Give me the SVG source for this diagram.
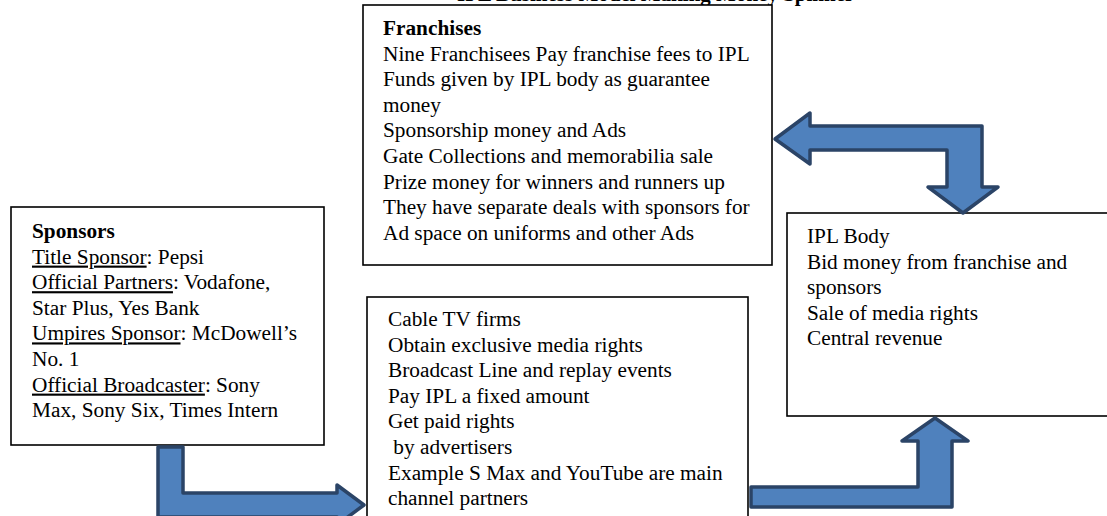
<svg xmlns="http://www.w3.org/2000/svg" width="1107" height="516" viewBox="0 0 1107 516">
<style>
.box{fill:#fff;stroke:#000;stroke-width:1.6}
.t{font-family:"Liberation Serif","Times New Roman",serif;font-size:21.3px;fill:#000}
.b{font-weight:bold}
.u{text-decoration:underline}
.arr{fill:#4F81BD;stroke:#2B4467;stroke-width:3.5;stroke-linejoin:round}
.title{font-family:"Liberation Serif","Times New Roman",serif;font-size:21px;font-weight:bold;fill:#000}
</style>
<rect width="1107" height="516" fill="#fff"/>
<text class="title" x="457" y="1">IPL Business Model Making Money Spinner</text>
<g id="node-franchises">
<rect class="box" x="363" y="5" width="409" height="260"/>
<text class="t" x="383">
<tspan class="b" x="383" y="35">Franchises</tspan>
<tspan x="383" y="60.6">Nine Franchisees Pay franchise fees to IPL</tspan>
<tspan x="383" y="86.2">Funds given by IPL body as guarantee</tspan>
<tspan x="383" y="111.8">money</tspan>
<tspan x="383" y="137.4">Sponsorship money and Ads</tspan>
<tspan x="383" y="163">Gate Collections and memorabilia sale</tspan>
<tspan x="383" y="188.6">Prize money for winners and runners up</tspan>
<tspan x="383" y="214.2">They have separate deals with sponsors for</tspan>
<tspan x="383" y="239.8">Ad space on uniforms and other Ads</tspan>
</text>
</g>
<g id="node-sponsors">
<rect class="box" x="11" y="207" width="313" height="238"/>
<text class="t">
<tspan class="b" x="32" y="238">Sponsors</tspan>
<tspan x="32" y="263.6"><tspan class="u">Title Sponsor</tspan>: Pepsi</tspan>
<tspan x="32" y="289.2"><tspan class="u">Official Partners</tspan>: Vodafone,</tspan>
<tspan x="32" y="314.8">Star Plus, Yes Bank</tspan>
<tspan x="32" y="340.4"><tspan class="u">Umpires Sponsor</tspan>: McDowell’s</tspan>
<tspan x="32" y="366">No. 1</tspan>
<tspan x="32" y="391.6"><tspan class="u">Official Broadcaster</tspan>: Sony</tspan>
<tspan x="32" y="417.2">Max, Sony Six, Times Intern</tspan>
</text>
</g>
<g id="node-cable">
<rect class="box" x="367" y="297" width="381" height="240"/>
<text class="t" xml:space="preserve">
<tspan x="388" y="326">Cable TV firms</tspan>
<tspan x="388" y="351.6">Obtain exclusive media rights</tspan>
<tspan x="388" y="377.2">Broadcast Line and replay events</tspan>
<tspan x="388" y="402.8">Pay IPL a fixed amount</tspan>
<tspan x="388" y="428.4">Get paid rights</tspan>
<tspan x="388" y="454"> by advertisers</tspan>
<tspan x="388" y="479.6">Example S Max and YouTube are main</tspan>
<tspan x="388" y="505.2">channel partners</tspan>
</text>
</g>
<g id="node-ipl">
<rect class="box" x="787" y="213" width="340" height="203"/>
<text class="t">
<tspan x="807" y="243">IPL Body</tspan>
<tspan x="807" y="268.6">Bid money from franchise and</tspan>
<tspan x="807" y="294.2">sponsors</tspan>
<tspan x="807" y="319.8">Sale of media rights</tspan>
<tspan x="807" y="345.4">Central revenue</tspan>
</text>
</g>
<g id="connectors">
<path class="arr" d="M158,447 L183,447 L183,493 L337,493 L337,485 L364,505 L337,525 L337,517 L158,517 Z"/>
<path class="arr" d="M751,487 L918,487 L918,441 L902,441 L935,418 L968,441 L952,441 L952,507 L751,507 Z"/>
<path class="arr" d="M775,139 L810,113 L810,126 L982,126 L982,187 L998,187 L963,213 L928,187 L947,187 L947,150 L810,150 L810,164 Z"/>
</g>
</svg>
